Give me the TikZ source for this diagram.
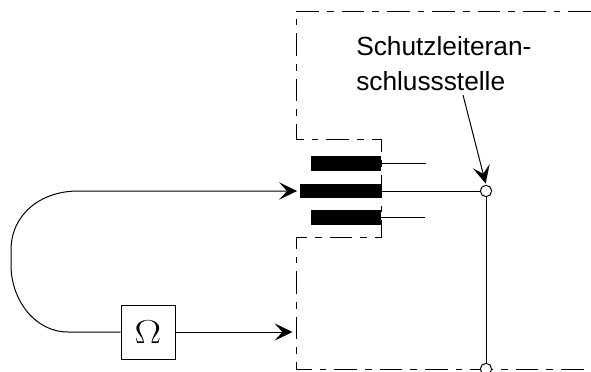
\documentclass[tikz,border=0pt]{standalone}
\usepackage{fontspec}
\setmainfont{Liberation Sans}
\usetikzlibrary{arrows.meta}
\tikzset{
	wire/.style={line width=0.75pt},
	tip/.style={-{Stealth[length=13.5pt,width=13pt,inset=6pt]}},
	frame/.style={line width=0.75pt,dash pattern=on 17pt off 6pt on 5pt off 6pt},
	bar/.style={fill=black,inner sep=0pt,minimum height=11.2pt},
	terminal/.style={circle,draw,fill=white,line width=0.75pt,inner sep=0pt,minimum size=8.5pt}
}
\begin{document}
\begin{tikzpicture}[x=0.75pt,y=-0.75pt]
	\useasboundingbox (0,0) rectangle (591,371);
	\clip (0,0) rectangle (591,371);
	% housing outline
	\draw [frame] (591,11)--(296,11)--(296,139)--(381,139)--(381,237)--(296,237)--(296,369)--(591,369);
	% contact bars
	\node [bar,minimum width=52.5pt] (bartop) at (346,163.5) {};
	\node [bar,minimum width=60.75pt] (barmid) at (340.5,191) {};
	\node [bar,minimum width=52.5pt] (barlow) at (346,217.5) {};
	\node [terminal] (termtop) at (486,191) {};
	\node [terminal] (termlow) at (486,369) {};
	\coordinate (endtop) at (426,163.5);
	\coordinate (endlow) at (425,217.5);
	\draw [wire] (bartop.east)--(endtop);
	\draw [wire] (barlow.east)--(endlow);
	\draw [wire] (barmid.east)--(termtop);
	\draw [wire] (termtop)--(termlow);
	% meter and leads
	\node [draw,wire,minimum size=40.5pt,inner sep=0pt] (meter) at (148,332) {\fontsize{24}{28}\selectfont\scalebox{1.2}[1]{$\Omega$}};
	\coordinate (housing) at (292.5,332);
	\draw [wire,tip] (meter.east)--(housing);
	\draw [wire,tip,shorten >=2pt] (meter.west)--(68,332) .. controls (35,332) and (11,300) .. (11,265)--(11,250) .. controls (11,215) and (40,191) .. (78,191)--(barmid.west);
	% label
	\node [align=left,anchor=north west,inner sep=0pt,font=\fontsize{19.7}{26.3}\selectfont] (label) at (356,36) {Schutzleiteran-\\schlussstelle};
	\coordinate (labelfoot) at (463,95);
	\draw [wire,tip,shorten >=1pt] (labelfoot)--(termtop.north);
\end{tikzpicture}
\end{document}
